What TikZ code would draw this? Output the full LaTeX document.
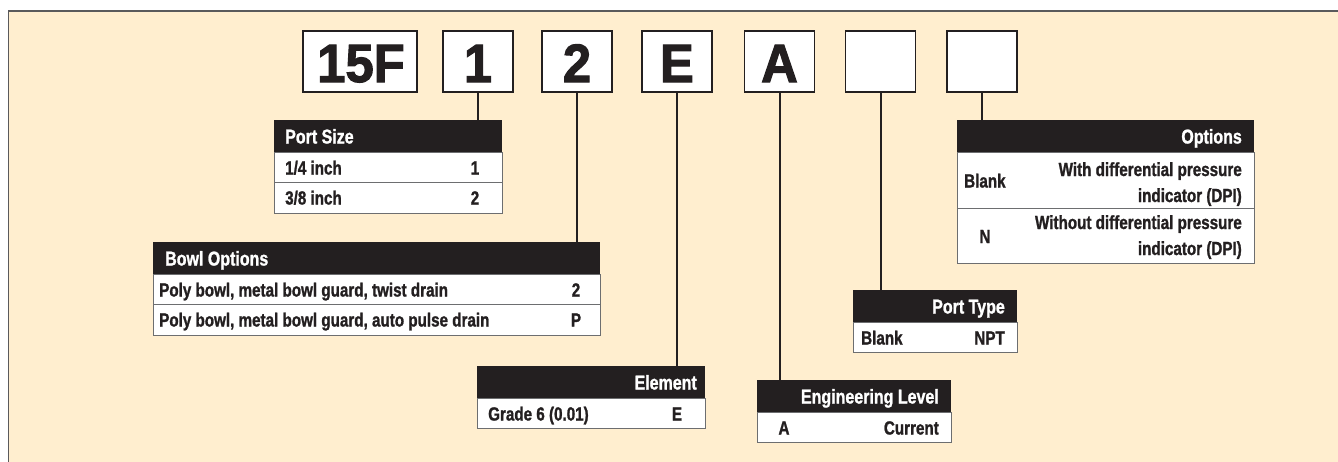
\documentclass[tikz,border=0pt]{standalone}
\usepackage{fontspec}
\newfontfamily\cfont[FakeStretch=0.8,FakeBold=1.2]{Liberation Sans Bold}
\newfontfamily\bfont[FakeStretch=0.94,FakeBold=2]{Liberation Sans Bold}
\definecolor{cream}{HTML}{FFEECF}
\definecolor{ink}{HTML}{231F20}
\definecolor{frameg}{HTML}{5A5A5C}
\definecolor{rowg}{HTML}{6D6E70}
\tikzset{
  codebox/.style={draw=ink, line width=1.6pt, fill=white, minimum height=61pt, inner sep=0pt},
  codetxt/.style={font=\bfont\fontsize{54pt}{54pt}\selectfont, text=ink, inner sep=0pt, anchor=base},
  hdr/.style={fill=ink, minimum height=32pt, inner sep=0pt, anchor=north west},
  row/.style={draw=rowg, line width=1pt, fill=white, inner sep=0pt, anchor=north west},
  htxt/.style={font=\cfont\fontsize{20pt}{22pt}\selectfont, text=white, inner sep=0pt},
  rtxt/.style={font=\cfont\fontsize{19pt}{22pt}\selectfont, text=ink, inner sep=0pt},
  conn/.style={draw=ink, line width=2pt},
}
\begin{document}
\begin{tikzpicture}[x=1pt,y=-1pt]
\useasboundingbox (0,0) rectangle (1338,461);
\begin{scope}
\clip (0,0) rectangle (1338,461);
\fill[white] (0,0) rectangle (1338,461);
\draw[fill=cream, draw=frameg, line width=1.8pt] (8.5,11) rectangle (1350,475);
\end{scope}

% code boxes
\node[codebox, minimum width=114pt] (b15) at (360,61.5) {};
\node[codebox, minimum width=70pt] (b1) at (478,61.5) {};
\node[codebox, minimum width=70pt] (b2) at (577,61.5) {};
\node[codebox, minimum width=70pt] (bE) at (677,61.5) {};
\node[codebox, minimum width=70pt] (bA) at (779.5,61.5) {};
\node[codebox, minimum width=70pt] (bX) at (880.5,61.5) {};
\node[codebox, minimum width=70pt] (bY) at (982,61.5) {};
\node[codetxt] (t15) at (361,82) {15F};
\node[codetxt] (t1) at (478,82) {1};
\node[codetxt] (t2) at (577,82) {2};
\node[codetxt] (tE) at (677,82) {E};
\node[codetxt] (tA) at (779.5,82) {A};

% Port Size
\node[hdr, minimum width=228pt] (psH) at (274,120) {};
\node[row, minimum width=228pt, minimum height=30pt] (psR1) at (274,152) {};
\node[row, minimum width=228pt, minimum height=31pt] (psR2) at (274,182) {};
\node[htxt, anchor=base west] (psT) at (285,143.5) {Port Size};
\node[rtxt, anchor=base west] (psA) at (285,174.5) {1/4 inch};
\node[rtxt, anchor=base] (psAv) at (475,174.5) {1};
\node[rtxt, anchor=base west] (psB) at (285,204.5) {3/8 inch};
\node[rtxt, anchor=base] (psBv) at (475,204.5) {2};

% Bowl Options
\node[hdr, minimum width=447pt] (boH) at (153,242) {};
\node[row, minimum width=447pt, minimum height=30pt] (boR1) at (153,274) {};
\node[row, minimum width=447pt, minimum height=31pt] (boR2) at (153,304) {};
\node[htxt, anchor=base west] (boT) at (165,265.5) {Bowl Options};
\node[rtxt, anchor=base west] (boA) at (159,296.5) {Poly bowl, metal bowl guard, twist drain};
\node[rtxt, anchor=base] (boAv) at (576,296.5) {2};
\node[rtxt, anchor=base west] (boB) at (159,326.5) {Poly bowl, metal bowl guard, auto pulse drain};
\node[rtxt, anchor=base] (boBv) at (576,326.5) {P};

% Element
\node[hdr, minimum width=228pt] (elH) at (477,366) {};
\node[row, minimum width=228pt, minimum height=30pt] (elR1) at (477,398) {};
\node[htxt, anchor=base east] (elT) at (697,389.5) {Element};
\node[rtxt, anchor=base west] (elA) at (488,420.5) {Grade 6 (0.01)};
\node[rtxt, anchor=base] (elAv) at (677,420.5) {E};

% Engineering Level
\node[hdr, minimum width=194pt] (enH) at (757,380) {};
\node[row, minimum width=194pt, minimum height=30pt] (enR1) at (757,412) {};
\node[htxt, anchor=base east] (enT) at (939,403.5) {Engineering Level};
\node[rtxt, anchor=base] (enA) at (784,434.5) {A};
\node[rtxt, anchor=base east] (enAv) at (939,434.5) {Current};

% Port Type
\node[hdr, minimum width=164pt] (ptH) at (853,290) {};
\node[row, minimum width=164pt, minimum height=30pt] (ptR1) at (853,322) {};
\node[htxt, anchor=base east] (ptT) at (1005,313.5) {Port Type};
\node[rtxt, anchor=base west] (ptA) at (861,344.5) {Blank};
\node[rtxt, anchor=base east] (ptAv) at (1005,344.5) {NPT};

% Options
\node[hdr, minimum width=297pt] (opH) at (957,120) {};
\node[row, minimum width=297pt, minimum height=56pt] (opR1) at (957,152) {};
\node[row, minimum width=297pt, minimum height=55pt] (opR2) at (957,208) {};
\node[htxt, anchor=base east] (opT) at (1242,143.5) {Options};
\node[rtxt, anchor=base west] (opA) at (964,187.5) {Blank};
\node[rtxt, anchor=base east] (opA1) at (1242,176) {With differential pressure};
\node[rtxt, anchor=base east] (opA2) at (1242,202) {indicator (DPI)};
\node[rtxt, anchor=base] (opB) at (985,243) {N};
\node[rtxt, anchor=base east] (opB1) at (1242,229) {Without differential pressure};
\node[rtxt, anchor=base east] (opB2) at (1242,255) {indicator (DPI)};

% connectors
\draw[conn] (b1.south) -- (b1.south |- psH.north);
\draw[conn] (b2.south) -- (b2.south |- boH.north);
\draw[conn] (bE.south) -- (bE.south |- elH.north);
\draw[conn] (bA.south) -- (bA.south |- enH.north);
\draw[conn] (bX.south) -- (bX.south |- ptH.north);
\draw[conn] (bY.south) -- (bY.south |- opH.north);
\end{tikzpicture}
\end{document}
